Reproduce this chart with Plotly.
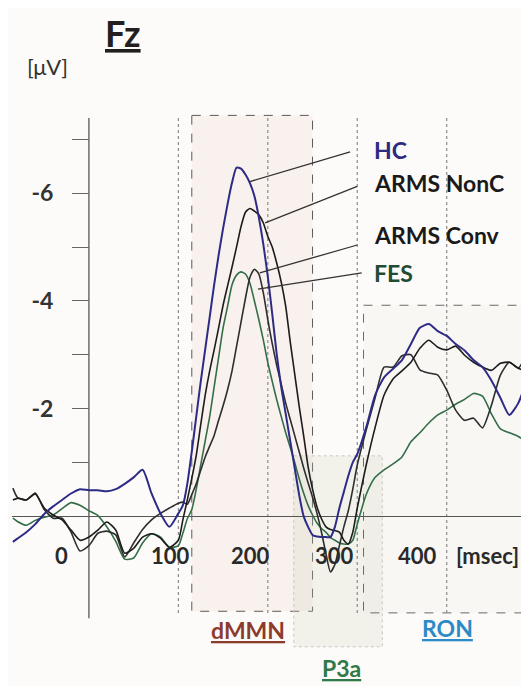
import plotly.graph_objects as go

# ---------------- data ----------------
TIME_MS = [-85, -80, -70, -60, -50, -40, -30, -20, -10, 0, 10, 20, 30, 40, 50, 60, 70, 80, 90,
           100, 105, 110, 115, 120, 125, 130, 135, 140, 145, 150, 155, 160, 165, 170, 175, 180, 185, 190, 195,
           200, 205, 210, 215, 220, 225, 230, 235, 240, 245, 250, 255, 260, 265, 270, 275, 280, 285, 290, 295, 300,
           310, 320, 330, 340, 350, 360, 370, 380, 390, 400, 410, 420, 430, 440, 450, 460, 470, 480, 490]

HC = [0.48, 0.42, 0.30, 0.15, -0.04, -0.18, -0.30, -0.42, -0.50, -0.48, -0.48, -0.46, -0.50, -0.60, -0.72, -0.86, -0.42, -0.05, 0.20,
      -0.05, -0.20, -0.60, -1.20, -1.85, -2.50, -3.10, -3.70, -4.30, -4.85, -5.35, -5.80, -6.20, -6.48, -6.46, -6.35, -6.19, -5.95, -5.55, -5.05,
      -4.45, -3.75, -3.00, -2.40, -1.90, -1.40, -0.90, -0.40, 0.00, 0.20, 0.35, 0.38, 0.39, 0.39, 0.39, 0.20, -0.15, -0.45, -0.75, -1.00, -1.15,
      -1.65, -2.25, -2.58, -2.74, -2.90, -3.20, -3.50, -3.57, -3.44, -3.35, -3.20, -3.08, -2.90, -2.77, -2.52, -2.20, -1.88, -2.10, -2.55]

ARMS_NONC = [-0.30, -0.33, -0.30, -0.41, -0.15, -0.02, 0.07, 0.26, 0.45, 0.39, 0.26, 0.11, 0.26, 0.69, 0.60, 0.39, 0.33, 0.41, 0.58,
             0.45, 0.07, -0.30, -0.70, -1.13, -1.70, -2.25, -2.70, -3.09, -3.50, -3.92, -4.28, -4.63, -5.00, -5.38, -5.65, -5.72, -5.67, -5.60, -5.45,
             -5.20, -5.00, -4.70, -4.35, -3.90, -3.25, -2.65, -2.05, -1.50, -0.92, -0.50, -0.17, 0.05, 0.20, 0.25, 0.27, 0.30, 0.45, 0.52, 0.30, -0.15,
             -0.95, -1.65, -2.25, -2.55, -2.70, -2.86, -3.12, -3.27, -3.14, -3.09, -3.16, -2.99, -2.86, -2.77, -2.71, -2.84, -2.86, -2.75, -2.68]

ARMS_CONV = [-0.52, -0.35, -0.30, -0.43, -0.12, 0.04, 0.04, 0.30, 0.65, 0.55, 0.32, 0.28, 0.35, 0.76, 0.50, 0.25, 0.07, -0.05, -0.15,
             -0.24, -0.26, -0.22, -0.40, -0.60, -0.85, -1.10, -1.30, -1.50, -1.78, -2.05, -2.35, -2.70, -3.15, -3.60, -4.05, -4.44, -4.59, -4.50, -4.15,
             -3.65, -3.20, -2.80, -2.45, -2.10, -1.80, -1.50, -1.20, -0.90, -0.62, -0.35, -0.05, 0.30, 0.70, 1.04, 0.90, 0.55, 0.20, -0.10, -0.50, -0.95,
             -1.60, -2.20, -2.77, -2.77, -2.98, -3.00, -2.72, -2.66, -2.62, -2.34, -1.97, -1.78, -1.82, -1.64, -2.06, -2.62, -2.86, -2.75, -3.05]

FES = [0.04, 0.10, 0.17, 0.08, 0.02, -0.02, -0.14, -0.25, -0.20, -0.10, -0.01, 0.20, 0.47, 0.80, 0.78, 0.50, 0.33, 0.39, 0.58,
       0.55, 0.32, 0.05, -0.12, -0.50, -0.95, -1.40, -1.85, -2.40, -2.95, -3.50, -3.90, -4.30, -4.48, -4.54, -4.50, -4.33, -4.00, -3.65, -3.27,
       -2.85, -2.50, -2.16, -1.85, -1.55, -1.28, -1.00, -0.70, -0.43, -0.20, -0.02, 0.13, 0.23, 0.30, 0.40, 0.45, 0.50, 0.52, 0.52, 0.45, 0.15,
       -0.40, -0.72, -0.86, -0.97, -1.10, -1.38, -1.55, -1.73, -1.88, -1.97, -2.08, -2.17, -2.28, -2.23, -1.90, -1.62, -1.55, -1.48, -1.37]

SERIES_NAMES = ["FES", "ARMS Conv", "ARMS NonC", "HC"]
SERIES_VALUES = [FES, ARMS_CONV, ARMS_NONC, HC]

Y_TICKS = [-7, -6, -5, -4, -3, -2, -1]
Y_TICK_TEXT = ["", "-6", "", "-4", "", "-2", ""]
X_TICKS = [0, 100, 200, 300, 400]
X_TICK_TEXT = ["0", "100", "200", "300", "400"]
GRID_MS = [100, 200, 300, 400]

# analysis windows: start/end (ms), top/bottom (µV)
WIN_NAMES = ["dMMN", "P3a", "RON"]
WIN_START = [115, 229, 307]
WIN_END = [250, 328, 486]
WIN_TOP = [-7.45, -1.12, -3.92]
WIN_BOTTOM = [1.77, 2.43, 1.80]

# ---------------- styling ----------------
FONT = "Lato"
COLORS = {"HC": "#2d2b86", "ARMS NonC": "#1c1c1c", "ARMS Conv": "#2e2e2e", "FES": "#336e48"}
WIDTHS = {"HC": 2.0, "ARMS NonC": 1.6, "ARMS Conv": 1.6, "FES": 1.6}
WIN_FILL = ["rgba(228,200,188,0.18)", "rgba(205,208,188,0.22)", "rgba(225,220,212,0.12)"]
WIN_LINE = ["#5a5a5a", "#c8c8c0", "#6a6a6a"]
WIN_DASH = ["dash", "dot", "dash"]
WIN_TEXT_COLOR = ["#8c3b2c", "#2f7a48", "#2b8bc6"]

# the page body adds an 8px offset; all target positions below are screen pixels
OFF = 8
W, H = 521, 678
ML, MR, MT, MB = 4, 0, 102, 36
X_RANGE = [-86, 492]
Y_RANGE = [2.49, -7.55]
PW, PH = W - ML - MR, H - MT - MB


def paper_x(px):
    return (px - OFF - ML) / PW


def paper_y(py):
    return (H - MB - (py - OFF)) / PH


fig = go.Figure()
for name, vals in zip(SERIES_NAMES, SERIES_VALUES):
    fig.add_trace(go.Scatter(
        x=TIME_MS, y=vals, mode="lines", name=name,
        line=dict(color=COLORS[name], width=WIDTHS[name], shape="spline", smoothing=0.6),
        showlegend=False, hoverinfo="skip"))

shapes = []
for i in range(len(WIN_NAMES)):
    shapes.append(dict(type="rect", xref="x", yref="y", x0=WIN_START[i], x1=WIN_END[i],
                       y0=WIN_TOP[i], y1=WIN_BOTTOM[i], fillcolor=WIN_FILL[i],
                       line=dict(color=WIN_LINE[i], width=1, dash=WIN_DASH[i]), layer="below"))
for g in GRID_MS:
    shapes.append(dict(type="line", xref="x", yref="y", x0=g, x1=g, y0=-7.4, y1=1.85,
                       line=dict(color="#8a8a8a", width=1.2, dash="dot"), layer="below"))
shapes.append(dict(type="line", xref="x", yref="y", x0=0, x1=0, y0=-7.4, y1=1.9,
                   line=dict(color="#555555", width=1.3), layer="below"))

LEADERS = [(292, -6.77, 180, -6.22), (300, -6.13, 197, -5.45),
           (300, -5.04, 191, -4.52), (305, -4.52, 189, -4.22)]
for (a, b, c, d) in LEADERS:
    shapes.append(dict(type="line", xref="x", yref="y", x0=a, y0=b, x1=c, y1=d,
                       line=dict(color="#333333", width=1.3)))

annotations = []
annotations.append(dict(text="<b><u>Fz</u></b>", xref="paper", yref="paper",
                        x=paper_x(123), y=paper_y(33), xanchor="center", yanchor="middle",
                        showarrow=False, font=dict(family=FONT, size=36, color="#231f20")))
annotations.append(dict(text="[μV]", xref="paper", yref="paper",
                        x=paper_x(47), y=paper_y(67), xanchor="center", yanchor="middle",
                        showarrow=False, font=dict(family=FONT, size=22, color="#333333")))
XSHIFT = [-27, -8, -17, -23, -29]
for tv, tt, sh in zip(X_TICKS, X_TICK_TEXT, XSHIFT):
    annotations.append(dict(text="<b>" + tt + "</b>", xref="x", yref="y", x=tv, y=0,
                            xshift=sh, yshift=-39, xanchor="center", yanchor="middle",
                            showarrow=False, font=dict(family=FONT, size=22, color="#2a2a2a")))
annotations.append(dict(text="<b>[msec]</b>", xref="x", yref="y", x=446, y=0,
                        yshift=-39, xanchor="center", yanchor="middle", showarrow=False,
                        font=dict(family=FONT, size=22, color="#2a2a2a")))

LABEL_V = {"HC": -6.8, "ARMS NonC": -6.19, "ARMS Conv": -5.22, "FES": -4.52}
LABEL_COLOR = {"HC": "#2d2b80", "ARMS NonC": "#1a1a1a", "ARMS Conv": "#1a1a1a", "FES": "#1f4d33"}
for name in ["HC", "ARMS NonC", "ARMS Conv", "FES"]:
    annotations.append(dict(text="<b>" + name + "</b>", xref="x", yref="y", x=316, y=LABEL_V[name],
                            xanchor="left", yanchor="middle", showarrow=False,
                            font=dict(family=FONT, size=23, color=LABEL_COLOR[name])))

# window labels below the plot (screen pixel centres)
WIN_LABEL_PX = [(248, 630), (341, 668), (447, 628)]
for i, name in enumerate(WIN_NAMES):
    annotations.append(dict(text="<b><u>" + name + "</u></b>", xref="paper", yref="paper",
                            x=paper_x(WIN_LABEL_PX[i][0]), y=paper_y(WIN_LABEL_PX[i][1]),
                            xanchor="center", yanchor="middle", showarrow=False,
                            font=dict(family=FONT, size=23, color=WIN_TEXT_COLOR[i])))

fig.update_layout(
    width=W, height=H,
    margin=dict(l=ML, r=MR, t=MT, b=MB, pad=0),
    paper_bgcolor="#fdfbf9", plot_bgcolor="#fdfbf9",
    shapes=shapes, annotations=annotations,
    xaxis=dict(range=X_RANGE, showgrid=False, zeroline=False, showline=False,
               showticklabels=False, ticks=""),
    yaxis=dict(range=Y_RANGE, anchor="free", position=paper_x(89), side="left",
               showgrid=False, showline=False, zeroline=True, zerolinecolor="#555555",
               zerolinewidth=1, tickvals=Y_TICKS, ticktext=Y_TICK_TEXT, ticks="outside",
               ticklen=17, tickwidth=1, tickcolor="#666666", ticklabelstandoff=14,
               tickfont=dict(family=FONT, size=23, color="#333333", weight="bold")),
    showlegend=False,
)

fig.write_html("out.html")
